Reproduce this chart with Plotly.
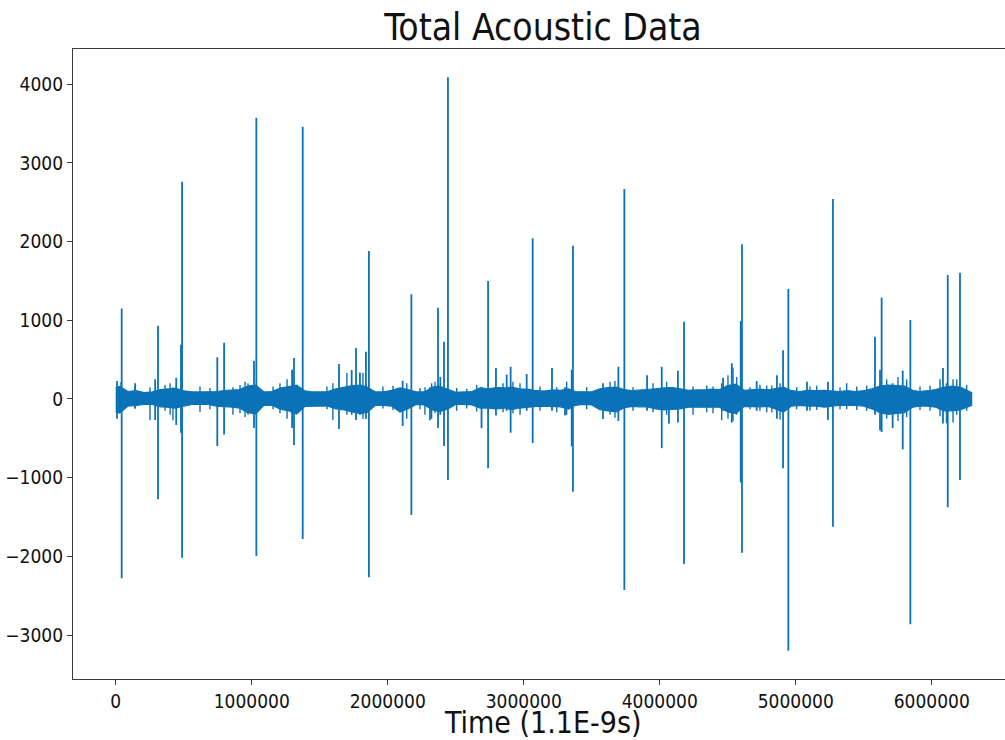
import plotly.graph_objects as go

# ---- Data ----
# Noise band envelope (time in units of 1.1E-9 s)
env_time = [0, 30000, 90000, 150000, 210000, 270000, 330000, 380000, 440000, 500000,
            560000, 620000, 680000, 740000, 800000, 860000, 910000, 970000, 1030000, 1090000,
            1150000, 1210000, 1270000, 1330000, 1390000, 1440000, 1500000, 1560000, 1620000, 1680000,
            1740000, 1800000, 1850000, 1910000, 1970000, 2030000, 2090000, 2150000, 2210000, 2270000,
            2330000, 2380000, 2440000, 2500000, 2560000, 2620000, 2680000, 2740000, 2800000, 2860000,
            2910000, 2970000, 3030000, 3090000, 3150000, 3210000, 3270000, 3330000, 3380000, 3440000,
            3500000, 3560000, 3620000, 3680000, 3740000, 3800000, 3850000, 3910000, 3970000, 4030000,
            4090000, 4150000, 4210000, 4270000, 4330000, 4380000, 4440000, 4500000, 4560000, 4620000,
            4680000, 4740000, 4800000, 4850000, 4910000, 4970000, 5030000, 5090000, 5150000, 5210000,
            5270000, 5320000, 5380000, 5440000, 5500000, 5560000, 5620000, 5680000, 5740000, 5800000,
            5860000, 5910000, 5970000, 6030000, 6090000, 6150000, 6210000, 6270000, 6294000]
env_hi = [145, 160, 95, 105, 80, 90, 120, 130, 135, 105,
          90, 90, 90, 95, 105, 110, 120, 165, 175, 90,
          95, 140, 160, 175, 105, 90, 90, 95, 130, 150,
          170, 175, 150, 90, 90, 110, 140, 120, 90, 90,
          150, 165, 130, 85, 90, 95, 140, 130, 145, 140,
          150, 130, 125, 105, 100, 115, 110, 130, 95, 90,
          90, 130, 145, 150, 120, 105, 110, 125, 130, 140,
          145, 130, 110, 115, 115, 125, 120, 170, 190, 110,
          115, 125, 115, 130, 150, 105, 95, 110, 105, 110,
          105, 95, 105, 95, 105, 130, 165, 175, 170, 165,
          110, 95, 105, 120, 150, 165, 150, 105, 80]
env_lo = [-160, -180, -90, -80, -70, -70, -100, -105, -115, -90,
          -70, -70, -70, -90, -95, -105, -115, -175, -190, -80,
          -80, -130, -150, -190, -95, -90, -90, -90, -125, -140,
          -165, -185, -170, -80, -80, -90, -165, -125, -70, -75,
          -140, -160, -130, -70, -70, -75, -115, -115, -125, -115,
          -135, -115, -105, -95, -90, -95, -100, -130, -80, -70,
          -75, -135, -150, -165, -110, -95, -100, -100, -125, -140,
          -135, -125, -105, -105, -105, -105, -105, -165, -185, -95,
          -95, -100, -95, -125, -165, -90, -80, -90, -90, -105,
          -90, -80, -80, -80, -90, -125, -175, -195, -185, -175,
          -105, -90, -90, -105, -150, -150, -140, -95, -80]

# small noise excursions on the band edges: time, max, min
fuzz_time = [39000, 142000, 252000, 363000, 400000, 421000, 620000, 693000, 862000, 914000,
             951000, 973000, 1157000, 1208000, 1260000, 1553000, 1597000, 1700000, 1818000, 1965000,
             2039000, 2140000, 2237000, 2274000, 2323000, 2348000, 2507000, 2581000, 2654000, 2848000,
             2921000, 2973000, 3120000, 3243000, 3316000, 3463000, 3635000, 3671000, 3804000, 3951000,
             4051000, 4245000, 4346000, 4392000, 4456000, 4502000, 4539000, 4566000, 4664000, 4737000,
             4787000, 4824000, 4885000, 5007000, 5105000, 5154000, 5326000, 5375000, 5449000, 5522000,
             5669000, 5752000, 5816000, 5914000, 5988000, 6061000, 6157000, 6184000, 6257000]
fuzz_max = [216, 165, 150, 178, 200, 150, 160, 140, 150, 178,
            220, 200, 160, 200, 250, 160, 200, 330, 330, 160,
            168, 200, 140, 150, 200, 220, 140, 130, 180, 200,
            220, 200, 160, 150, 220, 150, 220, 230, 150, 200,
            220, 160, 170, 160, 200, 300, 400, 280, 150, 180,
            170, 170, 200, 150, 160, 170, 150, 200, 160, 170,
            250, 280, 250, 160, 170, 250, 250, 250, 180]
fuzz_min = [-150, -120, -270, -150, -200, -270, -165, -130, -200, -180,
            -230, -200, -130, -180, -250, -130, -267, -200, -250, -120,
            -140, -250, -130, -200, -250, -180, -150, -120, -160, -170,
            -180, -200, -150, -170, -200, -130, -200, -240, -150, -170,
            -200, -200, -170, -180, -270, -250, -280, -200, -130, -150,
            -170, -170, -260, -130, -150, -140, -130, -130, -140, -150,
            -250, -280, -230, -140, -150, -220, -300, -200, -150]

# Acoustic bursts (spikes): time, maximum, minimum
spike_time = [10000, 44000, 143000, 290000, 311000, 445000, 480000, 488000, 747000, 797000,
              1017000, 1034000, 1297000, 1311000, 1375000, 1642000, 1735000, 1767000, 1796000, 1840000,
              1862000, 2110000, 2174000, 2311000, 2370000, 2387000, 2414000, 2443000, 2690000, 2738000,
              2796000, 2875000, 2904000, 3022000, 3066000, 3208000, 3304000, 3353000, 3362000, 3583000,
              3696000, 3740000, 3907000, 4015000, 4068000, 4134000, 4179000, 4466000, 4530000, 4596000,
              4605000, 4713000, 4862000, 4907000, 4946000, 5083000, 5237000, 5274000, 5583000, 5620000,
              5632000, 5713000, 5787000, 5843000, 6083000, 6110000, 6118000, 6208000]
spike_max = [230, 1150, 200, 250, 930, 270, 690, 2761, 530, 715,
             487, 3574, 370, 520, 3460, 445, 368, 648, 335, 600,
             1880, 232, 1330, 150, 1160, 280, 728, 4088, 155, 1500,
             394, 310, 410, 317, 2042, 394, 150, 370, 1948, 200,
             410, 2668, 300, 410, 150, 360, 980, 270, 455, 990,
             1966, 228, 300, 620, 1397, 220, 220, 2541, 790, 370,
             1287, 200, 360, 1003, 394, 200, 1575, 1605]
spike_min = [-250, -2278, -120, -267, -1275, -330, -430, -2016, -597, -450,
             -370, -1995, -370, -584, -1779, -380, -200, -267, -200, -255,
             -2266, -343, -1474, -270, -370, -200, -597, -1030, -370, -880,
             -210, -150, -428, -150, -560, -150, -210, -600, -1178, -255,
             -280, -2427, -150, -625, -310, -300, -2097, -150, -300, -1060,
             -1953, -150, -250, -880, -3198, -150, -267, -1622, -200, -400,
             -420, -370, -640, -2863, -310, -310, -1376, -1030]

x_ticks = [0, 1000000, 2000000, 3000000, 4000000, 5000000, 6000000]
x_tick_labels = ["0", "1000000", "2000000", "3000000", "4000000", "5000000", "6000000"]
y_ticks = [-3000, -2000, -1000, 0, 1000, 2000, 3000, 4000]
y_tick_labels = ["\u22123000", "\u22122000", "\u22121000", "0", "1000", "2000", "3000", "4000"]

assert len(env_time) == len(env_hi) == len(env_lo)
assert len(fuzz_time) == len(fuzz_max) == len(fuzz_min)
assert len(spike_time) == len(spike_max) == len(spike_min)

# ---- Figure ----
BLUE = "#0b72b7"
FONT = "DejaVu Sans Condensed, Open Sans, DejaVu Sans, sans-serif"


def vlines(ts, his, los):
    xs, ys = [], []
    for t, hi, lo in zip(ts, his, los):
        xs += [t, t, None]
        ys += [hi, lo, None]
    return xs, ys


fig = go.Figure()

# solid noise band
fig.add_trace(go.Scatter(
    x=env_time + env_time[::-1],
    y=env_hi + env_lo[::-1],
    fill="toself", fillcolor=BLUE,
    line=dict(color=BLUE, width=1.2),
    mode="lines", hoverinfo="skip", showlegend=False))

# ragged edge excursions
fx, fy = vlines(fuzz_time, fuzz_max, fuzz_min)
fig.add_trace(go.Scatter(x=fx, y=fy, mode="lines",
                         line=dict(color=BLUE, width=1.4),
                         hoverinfo="skip", showlegend=False))

# spikes
sx, sy = vlines(spike_time, spike_max, spike_min)
fig.add_trace(go.Scatter(x=sx, y=sy, mode="lines",
                         line=dict(color=BLUE, width=1.8),
                         hoverinfo="skip", showlegend=False))

axis_line = dict(showline=True, linecolor="#3a3a3a", linewidth=1.2,
                 showgrid=False, zeroline=False,
                 ticks="outside", ticklen=5, tickwidth=1.2, tickcolor="#3a3a3a",
                 tickfont=dict(family=FONT, size=19, color="#111"))

fig.update_layout(
    width=1005, height=740,
    margin=dict(l=73, r=0, t=49, b=61),
    paper_bgcolor="white", plot_bgcolor="white",
    font=dict(family=FONT, color="#111"),
    title=dict(text="Total Acoustic Data", font=dict(family=FONT, size=37, color="#111"),
               x=543 / 1005, xanchor="center", xref="container",
               y=1 - 27 / 740, yanchor="middle", yref="container"),
    xaxis=dict(range=[-314000, 6539000], tickvals=x_ticks, ticktext=x_tick_labels,
               mirror=True, **axis_line),
    yaxis=dict(range=[-3558, 4447], tickvals=y_ticks, ticktext=y_tick_labels,
               mirror=False, **axis_line),
    annotations=[dict(text="Time (1.1E-9s)", xref="paper", yref="paper",
                      x=(543 - 73) / 932, y=-(722 - 679) / 630,
                      xanchor="center", yanchor="middle", showarrow=False,
                      font=dict(family=FONT, size=30, color="#111"))],
)

fig.write_html("out.html",
               config={"displayModeBar": False},
               post_script="document.body.style.margin='0';document.body.style.overflow='hidden';")
